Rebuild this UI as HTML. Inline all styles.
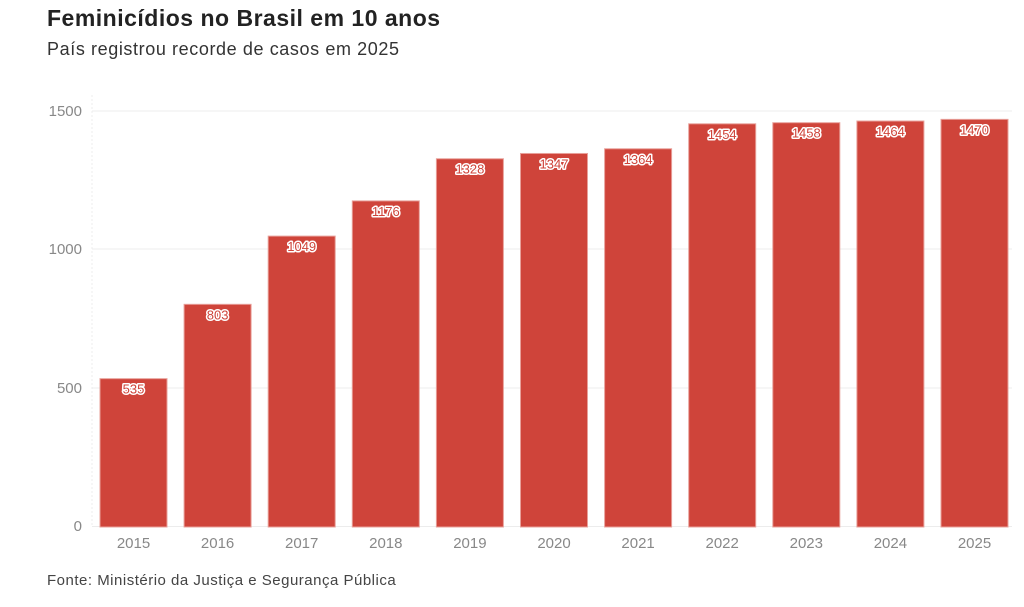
<!DOCTYPE html>
<html><head><meta charset="utf-8"><style>
body{margin:0;background:#fff;width:1024px;height:602px;overflow:hidden;font-family:"Liberation Sans",sans-serif}
</style></head><body>
<svg width="1024" height="602" xmlns="http://www.w3.org/2000/svg" font-family="Liberation Sans, sans-serif">
<text x="47" y="26" font-size="23" font-weight="bold" fill="#222" letter-spacing="0.5">Feminicídios no Brasil em 10 anos</text>
<text x="47" y="55" font-size="18" fill="#333" letter-spacing="0.6">País registrou recorde de casos em 2025</text>
<g stroke="#ececec" stroke-width="1">
<line x1="92" x2="1012" y1="111" y2="111"/><line x1="92" x2="1012" y1="249" y2="249"/>
<line x1="92" x2="1012" y1="388" y2="388"/><line x1="92" x2="1012" y1="526.5" y2="526.5"/>
<line x1="92" x2="92" y1="95" y2="527" stroke-dasharray="2,2"/>
</g>
<g font-size="15" fill="#888" text-anchor="end">
<text x="82" y="116">1500</text><text x="82" y="254">1000</text><text x="82" y="393">500</text><text x="82" y="531">0</text>
</g>
<g id="bars"></g>
<text x="47" y="585" font-size="15" fill="#444" letter-spacing="0.5">Fonte: Ministério da Justiça e Segurança Pública</text>
</svg>
<script>
var d=[535,803,1049,1176,1328,1347,1364,1454,1458,1464,1470],g=document.getElementById('bars'),s='';
d.forEach(function(v,i){var x=100+i*84.1,h=v*0.2773,y=527-h,c=x+33.5;
s+='<rect x="'+x+'" y="'+y+'" width="67" height="'+h+'" fill="#cf443a" stroke="#e8a09a" stroke-width="1"/>';
s+='<text x="'+c+'" y="'+(y+15)+'" font-size="13" text-anchor="middle" fill="#cf443a" stroke="#fff" stroke-width="3" paint-order="stroke" stroke-linejoin="round">'+v+'</text>';
s+='<text x="'+c+'" y="548" font-size="15" text-anchor="middle" fill="#888">'+(2015+i)+'</text>';});
g.innerHTML=s;
</script>
</body></html>
